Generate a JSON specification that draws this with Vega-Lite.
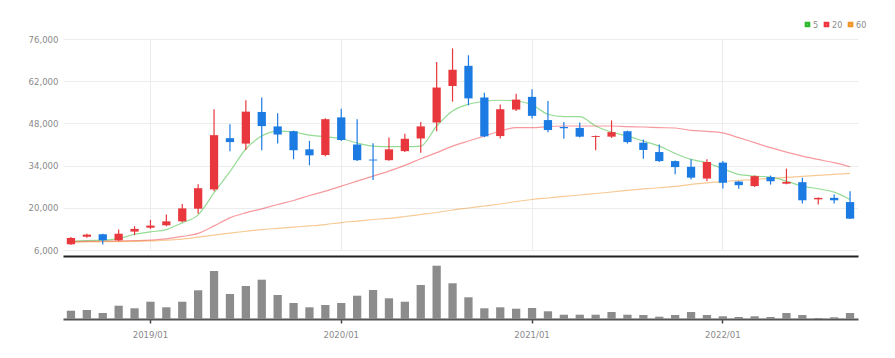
{
  "$schema": "https://vega.github.io/schema/vega-lite/v6.json",
  "padding": {"left": 5, "top": 20, "right": 37, "bottom": 5},
  "config": {
    "view": {"stroke": null},
    "font": "DejaVu Sans Condensed, Liberation Sans, sans-serif",
    "axis": {"labelFont": "DejaVu Sans Condensed, Liberation Sans, sans-serif", "labelColor": "#8a8a8a", "labelFontSize": 9.5, "gridColor": "#ececec"},
    "legend": {"labelFont": "DejaVu Sans Condensed, Liberation Sans, sans-serif", "columnPadding": 0}
  },
  "datasets": {
    "k": [
      {"date": "2018/08", "open": 7900, "close": 10000, "high": 10300, "low": 7700, "volume": 830000, "5": 8890, "20": 8800, "60": 8630},
      {"date": "2018/09", "open": 10400, "close": 11100, "high": 11400, "low": 10100, "volume": 900000, "5": 9130, "20": 8850, "60": 8660},
      {"date": "2018/10", "open": 11200, "close": 9200, "high": 11400, "low": 7800, "volume": 600000, "5": 9230, "20": 8900, "60": 8730},
      {"date": "2018/11", "open": 9200, "close": 11400, "high": 12800, "low": 9000, "volume": 1330000, "5": 9800, "20": 8950, "60": 8790},
      {"date": "2018/12", "open": 12100, "close": 13000, "high": 13900, "low": 10900, "volume": 1070000, "5": 11220, "20": 9100, "60": 8890},
      {"date": "2019/01", "open": 13400, "close": 14100, "high": 16000, "low": 13000, "volume": 1730000, "5": 12020, "20": 9300, "60": 9030},
      {"date": "2019/02", "open": 14200, "close": 15500, "high": 17800, "low": 13900, "volume": 1170000, "5": 12780, "20": 9700, "60": 9230},
      {"date": "2019/03", "open": 15500, "close": 19800, "high": 21300, "low": 15200, "volume": 1730000, "5": 15010, "20": 10500, "60": 9620},
      {"date": "2019/04", "open": 19700, "close": 26500, "high": 27800, "low": 18000, "volume": 2870000, "5": 17670, "20": 11500, "60": 10290},
      {"date": "2019/05", "open": 26100, "close": 44100, "high": 52700, "low": 25500, "volume": 4800000, "5": 25000, "20": 14000, "60": 10950},
      {"date": "2019/06", "open": 43100, "close": 41800, "high": 47700, "low": 38800, "volume": 2500000, "5": 32000, "20": 16670, "60": 11620},
      {"date": "2019/07", "open": 41300, "close": 51900, "high": 55700, "low": 39200, "volume": 3300000, "5": 39500, "20": 18340, "60": 12220},
      {"date": "2019/08", "open": 51800, "close": 47100, "high": 56600, "low": 39100, "volume": 3930000, "5": 43800, "20": 19670, "60": 12780},
      {"date": "2019/09", "open": 47000, "close": 44300, "high": 51400, "low": 41300, "volume": 2400000, "5": 45470, "20": 21100, "60": 13180},
      {"date": "2019/10", "open": 45400, "close": 39100, "high": 45600, "low": 36100, "volume": 1600000, "5": 45140, "20": 22430, "60": 13580},
      {"date": "2019/11", "open": 39400, "close": 37400, "high": 42200, "low": 34100, "volume": 1170000, "5": 44140, "20": 24090, "60": 13980},
      {"date": "2019/12", "open": 37500, "close": 49400, "high": 49700, "low": 37100, "volume": 1400000, "5": 43600, "20": 25520, "60": 14450},
      {"date": "2020/01", "open": 50000, "close": 42500, "high": 52900, "low": 42200, "volume": 1600000, "5": 42940, "20": 27180, "60": 15110},
      {"date": "2020/02", "open": 41000, "close": 35800, "high": 49400, "low": 35500, "volume": 2330000, "5": 41500, "20": 28840, "60": 15610},
      {"date": "2020/03", "open": 36000, "close": 35700, "high": 41400, "low": 29200, "volume": 2900000, "5": 40480, "20": 30510, "60": 16110},
      {"date": "2020/04", "open": 35800, "close": 39400, "high": 43300, "low": 35600, "volume": 2070000, "5": 40280, "20": 32170, "60": 16510},
      {"date": "2020/05", "open": 38800, "close": 42900, "high": 44600, "low": 38500, "volume": 1730000, "5": 40280, "20": 34060, "60": 17110},
      {"date": "2020/06", "open": 43000, "close": 47000, "high": 48500, "low": 38300, "volume": 3400000, "5": 40480, "20": 36290, "60": 17770},
      {"date": "2020/07", "open": 48300, "close": 59900, "high": 68400, "low": 45400, "volume": 5330000, "5": 47130, "20": 38290, "60": 18440},
      {"date": "2020/08", "open": 60400, "close": 65800, "high": 72900, "low": 55200, "volume": 3570000, "5": 52120, "20": 40480, "60": 19270},
      {"date": "2020/09", "open": 67100, "close": 56300, "high": 70600, "low": 54000, "volume": 2170000, "5": 54340, "20": 42150, "60": 19930},
      {"date": "2020/10", "open": 56600, "close": 43700, "high": 58200, "low": 43400, "volume": 1070000, "5": 55340, "20": 43800, "60": 20600},
      {"date": "2020/11", "open": 43800, "close": 52700, "high": 54300, "low": 43000, "volume": 1170000, "5": 55680, "20": 45470, "60": 21260},
      {"date": "2020/12", "open": 52600, "close": 55900, "high": 57800, "low": 52100, "volume": 1030000, "5": 55440, "20": 46600, "60": 22090},
      {"date": "2021/01", "open": 56800, "close": 50500, "high": 59300, "low": 49600, "volume": 1100000, "5": 54180, "20": 46600, "60": 22760},
      {"date": "2021/02", "open": 49100, "close": 45800, "high": 55400, "low": 45100, "volume": 770000, "5": 51020, "20": 46930, "60": 23260},
      {"date": "2021/03", "open": 46800, "close": 46400, "high": 48500, "low": 42900, "volume": 430000, "5": 50260, "20": 47130, "60": 23760},
      {"date": "2021/04", "open": 46500, "close": 43600, "high": 48300, "low": 43300, "volume": 430000, "5": 50260, "20": 47130, "60": 24250},
      {"date": "2021/05", "open": 43500, "close": 43800, "high": 44000, "low": 39100, "volume": 430000, "5": 47130, "20": 47130, "60": 24750},
      {"date": "2021/06", "open": 43600, "close": 45100, "high": 49000, "low": 43200, "volume": 700000, "5": 45140, "20": 47130, "60": 25250},
      {"date": "2021/07", "open": 45400, "close": 41800, "high": 45600, "low": 41300, "volume": 430000, "5": 43800, "20": 46930, "60": 25750},
      {"date": "2021/08", "open": 41600, "close": 39200, "high": 42700, "low": 36300, "volume": 400000, "5": 42150, "20": 46800, "60": 26250},
      {"date": "2021/09", "open": 38500, "close": 35500, "high": 41000, "low": 35200, "volume": 230000, "5": 40480, "20": 46600, "60": 26650},
      {"date": "2021/10", "open": 35500, "close": 33500, "high": 35700, "low": 31100, "volume": 400000, "5": 38050, "20": 46470, "60": 27080},
      {"date": "2021/11", "open": 33600, "close": 30000, "high": 36100, "low": 29400, "volume": 700000, "5": 36060, "20": 45700, "60": 27750},
      {"date": "2021/12", "open": 29700, "close": 35200, "high": 36100, "low": 28800, "volume": 400000, "5": 34960, "20": 45370, "60": 28240},
      {"date": "2022/01", "open": 35000, "close": 28300, "high": 35500, "low": 26400, "volume": 270000, "5": 32960, "20": 44850, "60": 28740},
      {"date": "2022/02", "open": 28700, "close": 27500, "high": 28900, "low": 26300, "volume": 200000, "5": 31070, "20": 43270, "60": 29080},
      {"date": "2022/03", "open": 27200, "close": 30500, "high": 30700, "low": 26900, "volume": 270000, "5": 30510, "20": 41610, "60": 29410},
      {"date": "2022/04", "open": 30200, "close": 28800, "high": 30700, "low": 27700, "volume": 200000, "5": 30180, "20": 39950, "60": 29740},
      {"date": "2022/05", "open": 28000, "close": 28600, "high": 33000, "low": 27800, "volume": 600000, "5": 28840, "20": 38490, "60": 30070},
      {"date": "2022/06", "open": 28500, "close": 22500, "high": 30000, "low": 21400, "volume": 400000, "5": 27180, "20": 37160, "60": 30410},
      {"date": "2022/07", "open": 22800, "close": 23300, "high": 23400, "low": 21100, "volume": 100000, "5": 26310, "20": 36060, "60": 30740},
      {"date": "2022/08", "open": 23300, "close": 22500, "high": 24400, "low": 21400, "volume": 170000, "5": 25190, "20": 34960, "60": 31070},
      {"date": "2022/09", "open": 21900, "close": 16400, "high": 25500, "low": 16300, "volume": 600000, "5": 22760, "20": 33630, "60": 31400}
    ]
  },
  "vconcat": [
    {
      "width": 795,
      "height": 211,
      "data": {"name": "k"},
      "encoding": {
        "x": {
          "field": "date", "type": "ordinal", "sort": null,
          "scale": {"paddingInner": 0.48, "paddingOuter": 0.24},
          "axis": {"values": ["2019/01", "2020/01", "2021/01", "2022/01"], "title": null, "labels": false, "ticks": false, "grid": true, "domain": true, "domainColor": "#222", "domainWidth": 2, "offset": 6}
        }
      },
      "layer": [
        {
          "transform": [{"fold": ["5", "20", "60"], "as": ["ma", "value"]}],
          "mark": {"type": "line", "strokeWidth": 1.2, "strokeOpacity": 0.5, "interpolate": "monotone"},
          "encoding": {
            "y": {"field": "value", "type": "quantitative", "scale": {"domain": [6000, 76000], "nice": false, "zero": false},
              "axis": {"values": [6000, 20000, 34000, 48000, 62000, 76000], "format": ",d", "title": null, "domain": false, "ticks": false, "labelPadding": 5, "minExtent": 58, "maxExtent": 58}},
            "color": {"field": "ma", "type": "nominal",
              "scale": {"domain": ["5", "20", "60"], "range": ["#2cb92c", "#ef3540", "#f0952c"]},
              "legend": {"orient": "none", "legendX": 740, "legendY": -19, "direction": "horizontal", "title": null, "gridAlign": "none",
                "symbolType": "square", "symbolSize": 10, "symbolStrokeWidth": 2.5, "labelFontSize": 9, "labelColor": "#8a8a8a",
                "labelOffset": 1, "columnPadding": 0,
                "encode": {"symbols": {"update": {"strokeOpacity": {"value": 1}, "opacity": {"value": 1}}}}}
            }
          }
        },
        {
          "mark": {"type": "rule", "strokeWidth": 1.2},
          "encoding": {
            "y": {"field": "low", "type": "quantitative"},
            "y2": {"field": "high"},
            "color": {"condition": {"test": "datum.close >= datum.open", "value": "#e8383d"}, "value": "#1b7be3"}
          }
        },
        {
          "mark": {"type": "bar"},
          "encoding": {
            "y": {"field": "open", "type": "quantitative"},
            "y2": {"field": "close"},
            "color": {"condition": {"test": "datum.close >= datum.open", "value": "#e8383d"}, "value": "#1b7be3"}
          }
        }
      ]
    },
    {
      "width": 795,
      "height": 55,
      "data": {"name": "k"},
      "mark": {"type": "bar", "color": "#8c8c8c"},
      "encoding": {
        "x": {
          "field": "date", "type": "ordinal", "sort": null,
          "scale": {"paddingInner": 0.48, "paddingOuter": 0.24},
          "axis": {"values": ["2019/01", "2020/01", "2021/01", "2022/01"], "title": null, "labelAngle": 0, "grid": false, "domainColor": "#555", "domainWidth": 2, "tickColor": "#444", "tickSize": 4, "tickWidth": 1.5, "labelPadding": 6}
        },
        "y": {"field": "volume", "type": "quantitative", "scale": {"domain": [0, 5500000]}, "axis": null}
      }
    }
  ],
  "spacing": 8
}
